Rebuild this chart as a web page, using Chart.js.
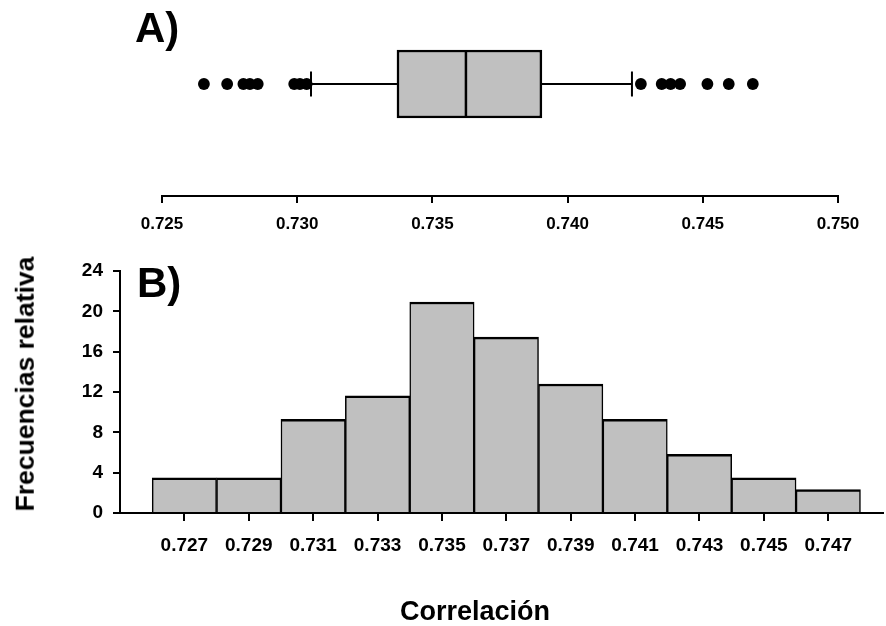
<!DOCTYPE html>
<html>
<head>
<meta charset="utf-8">
<script src="https://cdn.jsdelivr.net/npm/chart.js@4.4.1/dist/chart.umd.min.js"></script>
<style>
  html, body { margin: 0; padding: 0; background: #fff; }
  body { width: 886px; height: 626px; position: relative; overflow: hidden; font-family: 'Liberation Sans', Arial, sans-serif; }
  canvas { position: absolute; left: 0; }
  #cTop { top: 0; }
  #cHist { top: 240px; }
  .panel { position: absolute; font-weight: bold; font-size: 42px; line-height: 42px; color: #000; white-space: nowrap; }
  #ytitle { position: absolute; font-weight: bold; font-size: 26.5px; line-height: 26.5px; color: #000; white-space: nowrap;
            left: 25px; top: 384px; transform: translate(-50%, -50%) rotate(-90deg); }
  #xtitle { position: absolute; font-weight: bold; font-size: 27px; line-height: 27px; color: #000; white-space: nowrap;
            left: 475px; top: 598px; transform: translateX(-50%); }
</style>
</head>
<body>
<canvas id="cTop" width="886" height="240"></canvas>
<canvas id="cHist" width="886" height="386"></canvas>
<div class="panel" style="left:135px; top:7px;">A)</div>
<div class="panel" style="left:137px; top:262px;">B)</div>
<div id="ytitle">Frecuencias relativa</div>
<div id="xtitle">Correlación</div>
<script>
// ---------- data ----------
const topTickLabels = ['0.725', '0.730', '0.735', '0.740', '0.745', '0.750'];
const boxQuartiles = [0.73369, 0.73624, 0.73905];   // Q1, median, Q3
const boxWhiskers  = [0.73051, 0.74238];            // lower, upper whisker ends
const boxOutliers  = [0.72655, 0.72741, 0.72801, 0.72825, 0.72854, 0.72989, 0.73010, 0.73035,
                      0.74271, 0.74348, 0.74381, 0.74416, 0.74517, 0.74596, 0.74685];

const histBins   = ['0.727', '0.729', '0.731', '0.733', '0.735', '0.737', '0.739', '0.741', '0.743', '0.745', '0.747'];
const histValues = [3.49, 3.49, 9.30, 11.63, 20.93, 17.44, 12.79, 9.30, 5.81, 3.49, 2.33];
const histYTicks = [0, 4, 8, 12, 16, 20, 24];

// ---------- common ----------
const FONT = "'Liberation Sans', Arial, sans-serif";
const GRAY = '#c0c0c0';
Chart.defaults.font.family = FONT;
Chart.defaults.font.weight = 'bold';
Chart.defaults.color = '#000';

const [q1, med, q3] = boxQuartiles;
const [wLo, wHi] = boxWhiskers;

// ---------- panel A: box plot ----------
new Chart(document.getElementById('cTop'), {
  type: 'scatter',
  data: {
    datasets: [
      { // median
        type: 'scatter',
        data: [{ x: med, y: 0 }],
        pointStyle: 'line', rotation: 90, pointRadius: 33.5,
        pointBorderColor: '#000', pointBorderWidth: 2.5, clip: false
      },
      { // box
        type: 'bar', indexAxis: 'y',
        data: [{ y: 0, x: [q1, q3] }],
        backgroundColor: GRAY, borderColor: '#000', borderWidth: 2.5, borderSkipped: false,
        barThickness: 68, clip: false
      },
      { // lower whisker
        type: 'line',
        data: [{ x: wLo, y: 0 }, { x: q1, y: 0 }],
        borderColor: '#000', borderWidth: 2, pointRadius: 0, clip: false
      },
      { // upper whisker
        type: 'line',
        data: [{ x: q3, y: 0 }, { x: wHi, y: 0 }],
        borderColor: '#000', borderWidth: 2, pointRadius: 0, clip: false
      },
      { // whisker caps
        type: 'scatter',
        data: boxWhiskers.map(v => ({ x: v, y: 0 })),
        pointStyle: 'line', rotation: 90, pointRadius: 12.5,
        pointBorderColor: '#000', pointBorderWidth: 2, clip: false
      },
      { // outliers
        type: 'scatter',
        data: boxOutliers.map(v => ({ x: v, y: 0 })),
        pointStyle: 'circle', pointRadius: 5.9,
        pointBackgroundColor: '#000', pointBorderColor: '#000', pointBorderWidth: 0, clip: false
      }
    ]
  },
  options: {
    responsive: false, animation: false,
    layout: { autoPadding: false, padding: { left: 162, right: 48, top: 20, bottom: 0 } },
    plugins: { legend: { display: false }, tooltip: { enabled: false } },
    events: [],
    scales: {
      x: {
        type: 'linear', position: 'bottom',
        min: parseFloat(topTickLabels[0]), max: parseFloat(topTickLabels[topTickLabels.length - 1]),
        afterBuildTicks: s => { s.ticks = topTickLabels.map(l => ({ value: parseFloat(l) })); },
        afterFit: s => { s.height = 44; },
        ticks: { callback: v => v.toFixed(3), font: { size: 17, weight: 'bold' }, color: '#000', padding: 11, maxRotation: 0, autoSkip: false },
        grid: { drawOnChartArea: false, drawTicks: true, tickLength: 7, color: '#000', lineWidth: 2 },
        border: { display: true, color: '#000', width: 2 }
      },
      y: {
        type: 'linear', display: false, min: -1.75, max: 1, offset: false, grid: { offset: false }
      }
    }
  }
});

// ---------- panel B: histogram ----------
new Chart(document.getElementById('cHist'), {
  type: 'bar',
  data: {
    datasets: [{
      data: histBins.map((b, i) => ({ x: parseFloat(b), y: histValues[i] })),
      backgroundColor: GRAY, borderColor: '#000',
      borderWidth: { top: 2.5, left: 1.5, right: 1.5, bottom: 0 },
      categoryPercentage: 1.0, barPercentage: 1.0
    }]
  },
  options: {
    responsive: false, animation: false,
    layout: { autoPadding: false, padding: { left: 0, right: 3, top: 31, bottom: 0 } },
    plugins: { legend: { display: false }, tooltip: { enabled: false } },
    events: [],
    scales: {
      x: {
        type: 'linear', position: 'bottom', offset: false,
        min: 0.725, max: 0.7487,
        afterBuildTicks: s => { s.ticks = histBins.map(l => ({ value: parseFloat(l) })); },
        afterFit: s => { s.height = 113; },
        ticks: { callback: v => v.toFixed(3), font: { size: 19, weight: 'bold' }, color: '#000', padding: 13, maxRotation: 0, autoSkip: false },
        grid: { offset: false, drawOnChartArea: false, drawTicks: true, tickLength: 8, color: '#000', lineWidth: 2 },
        border: { display: true, color: '#000', width: 2 }
      },
      y: {
        type: 'linear', position: 'left',
        min: histYTicks[0], max: histYTicks[histYTicks.length - 1],
        afterBuildTicks: s => { s.ticks = histYTicks.map(v => ({ value: v })); },
        afterFit: s => { s.width = 120; },
        ticks: { font: { size: 19, weight: 'bold' }, color: '#000', padding: 10, autoSkip: false },
        grid: { drawOnChartArea: false, drawTicks: true, tickLength: 7, color: '#000', lineWidth: 2 },
        border: { display: true, color: '#000', width: 2 }
      }
    }
  }
});
</script>
</body>
</html>
